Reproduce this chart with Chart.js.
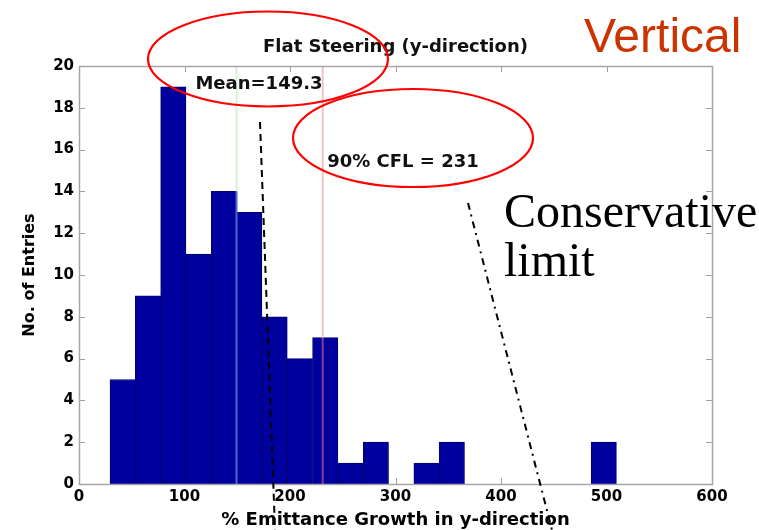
<!DOCTYPE html>
<html>
<head>
<meta charset="utf-8">
<script src="https://cdn.jsdelivr.net/npm/chart.js@4.4.1/dist/chart.umd.min.js"></script>
<style>
  html, body { margin: 0; padding: 0; background: #ffffff; }
  #wrap { width: 759px; height: 530px; position: relative; }
</style>
</head>
<body>
<div id="wrap"><canvas id="c" width="759" height="530"></canvas></div>
<script>
// ---- data ----
const binCenters = [41.4, 65.4, 89.4, 113.4, 137.4, 161.4, 185.4, 209.4, 233.4, 257.4,
                    281.4, 305.4, 329.4, 353.4, 377.4, 401.4, 425.4, 449.4, 473.4, 497.4];
const counts = [5, 9, 19, 11, 14, 13, 8, 6, 7, 1,
                2, 0, 1, 2, 0, 0, 0, 0, 0, 2];
const binWidth = 24;
const xTickValues = [0, 100, 200, 300, 400, 500, 600];
const yTickValues = [0, 2, 4, 6, 8, 10, 12, 14, 16, 18, 20];
const meanValue = 149.3;
const cflValue = 231;
const titleText = 'Flat Steering (y-direction)';
const xTitle = '% Emittance Growth in y-direction';
const yTitle = 'No. of Entries';
const meanLabel = 'Mean=149.3';
const cflLabel = '90% CFL = 231';
const cornerLabel = 'Vertical';
const limitLabel = ['Conservative', 'limit'];

const FONT = "'DejaVu Sans', 'Liberation Sans', Arial, sans-serif";

// height of the bar(s) lying under a given x value
function barHeightAt(v) {
  let h = 0;
  binCenters.forEach((c, i) => {
    if (Math.abs(v - c) <= binWidth / 2 + 0.5) h = Math.max(h, counts[i]);
  });
  return h;
}

const boxPlugin = {
  id: 'matlabBox',
  beforeDatasetsDraw(chart) {
    const {ctx, chartArea: a, scales: {x, y}} = chart;
    ctx.save();
    ctx.strokeStyle = '#a0a0a0';
    ctx.lineWidth = 1;
    ctx.beginPath();
    xTickValues.forEach(v => {
      const px = Math.round(x.getPixelForValue(v)) + 0.5;
      ctx.moveTo(px, a.bottom); ctx.lineTo(px, a.bottom - 6);
      ctx.moveTo(px, a.top); ctx.lineTo(px, a.top + 6);
    });
    yTickValues.forEach(v => {
      const py = Math.round(y.getPixelForValue(v)) + 0.5;
      ctx.moveTo(a.left, py); ctx.lineTo(a.left + 6, py);
      ctx.moveTo(a.right, py); ctx.lineTo(a.right - 6, py);
    });
    ctx.stroke();
    ctx.restore();
  },
  afterDatasetsDraw(chart) {
    const {ctx, chartArea: a, scales: {x, y}} = chart;
    ctx.save();
    ctx.lineWidth = 2;
    const drawRef = (v, above, inside) => {
      const px = x.getPixelForValue(v);
      const py = y.getPixelForValue(barHeightAt(v));
      ctx.strokeStyle = above;
      ctx.beginPath(); ctx.moveTo(px, a.top); ctx.lineTo(px, py); ctx.stroke();
      ctx.strokeStyle = inside;
      ctx.beginPath(); ctx.moveTo(px, py); ctx.lineTo(px, a.bottom); ctx.stroke();
    };
    drawRef(meanValue, '#d6efd6', '#4a68cc');
    drawRef(cflValue, '#f0c4c4', '#8a3c9c');
    // box
    ctx.lineWidth = 1.5;
    ctx.strokeStyle = '#a6a6a6';
    ctx.strokeRect(Math.round(a.left) + 0.5, Math.round(a.top) + 0.5,
                   Math.round(a.right - a.left), Math.round(a.bottom - a.top));
    ctx.restore();
  },
  afterDraw(chart) {
    const {ctx} = chart;
    ctx.save();
    ctx.fillStyle = '#111111';
    ctx.font = 'bold 18px ' + FONT;
    ctx.textAlign = 'center';
    ctx.textBaseline = 'alphabetic';
    ctx.fillText(meanLabel, 259, 89);
    ctx.fillText(cflLabel, 403, 167);

    ctx.fillStyle = '#cc3300';
    ctx.font = "48px 'Liberation Sans', Arial, sans-serif";
    ctx.textAlign = 'left';
    ctx.fillText(cornerLabel, 584, 52);

    ctx.fillStyle = '#000000';
    ctx.font = "48px 'Liberation Serif', 'Times New Roman', serif";
    ctx.fillText(limitLabel[0], 504, 227);
    ctx.fillText(limitLabel[1], 504, 276);

    ctx.strokeStyle = '#ff0000';
    ctx.lineWidth = 2.2;
    ctx.beginPath(); ctx.ellipse(268, 59, 120, 47.5, 0, 0, Math.PI * 2); ctx.stroke();
    ctx.beginPath(); ctx.ellipse(413, 138, 120, 49, 0, 0, Math.PI * 2); ctx.stroke();

    ctx.strokeStyle = '#000000';
    ctx.lineWidth = 2;
    ctx.setLineDash([7, 5]);
    ctx.beginPath(); ctx.moveTo(260, 122); ctx.lineTo(275, 530); ctx.stroke();
    ctx.setLineDash([7, 5, 2, 5]);
    ctx.beginPath(); ctx.moveTo(468, 203); ctx.lineTo(552, 530); ctx.stroke();
    ctx.restore();
  }
};

new Chart(document.getElementById('c'), {
  type: 'bar',
  data: {
    datasets: [{
      data: binCenters.map((c, i) => ({x: c, y: counts[i]})),
      backgroundColor: '#00009e',
      borderColor: '#000070',
      borderWidth: 1,
      barPercentage: 1,
      categoryPercentage: 1
    }]
  },
  options: {
    responsive: false,
    animation: false,
    events: [],
    layout: { padding: { left: 0, right: 47, top: 0, bottom: 0 } },
    plugins: {
      legend: { display: false },
      tooltip: { enabled: false },
      title: {
        display: true,
        text: titleText,
        fullSize: false,
        color: '#111111',
        font: { family: FONT, size: 18, weight: 'bold', lineHeight: 1.2 },
        padding: { top: 37, bottom: 7.4 }
      }
    },
    scales: {
      x: {
        type: 'linear',
        min: 0, max: 600,
        offset: false,
        grid: { display: false, drawTicks: false, offset: false },
        border: { display: false },
        ticks: {
          stepSize: 100,
          padding: 4,
          color: '#000000',
          font: { family: FONT, size: 15, weight: 'bold' },
          maxRotation: 0
        },
        title: {
          display: true,
          text: xTitle,
          color: '#000000',
          font: { family: FONT, size: 18, weight: 'bold', lineHeight: 1 },
          padding: { top: 0, bottom: 0.5 }
        },
        afterFit(s) { s.height = 46; }
      },
      y: {
        min: 0, max: 20,
        grid: { display: false, drawTicks: false },
        border: { display: false },
        ticks: {
          stepSize: 2,
          padding: 5,
          color: '#000000',
          font: { family: FONT, size: 15, weight: 'bold' }
        },
        title: {
          display: true,
          text: yTitle,
          color: '#000000',
          font: { family: FONT, size: 16, weight: 'bold', lineHeight: 1.2 },
          padding: { top: 20.7, bottom: 0 }
        },
        afterFit(s) { s.width = 79; }
      }
    }
  },
  plugins: [boxPlugin]
});
</script>
</body>
</html>
